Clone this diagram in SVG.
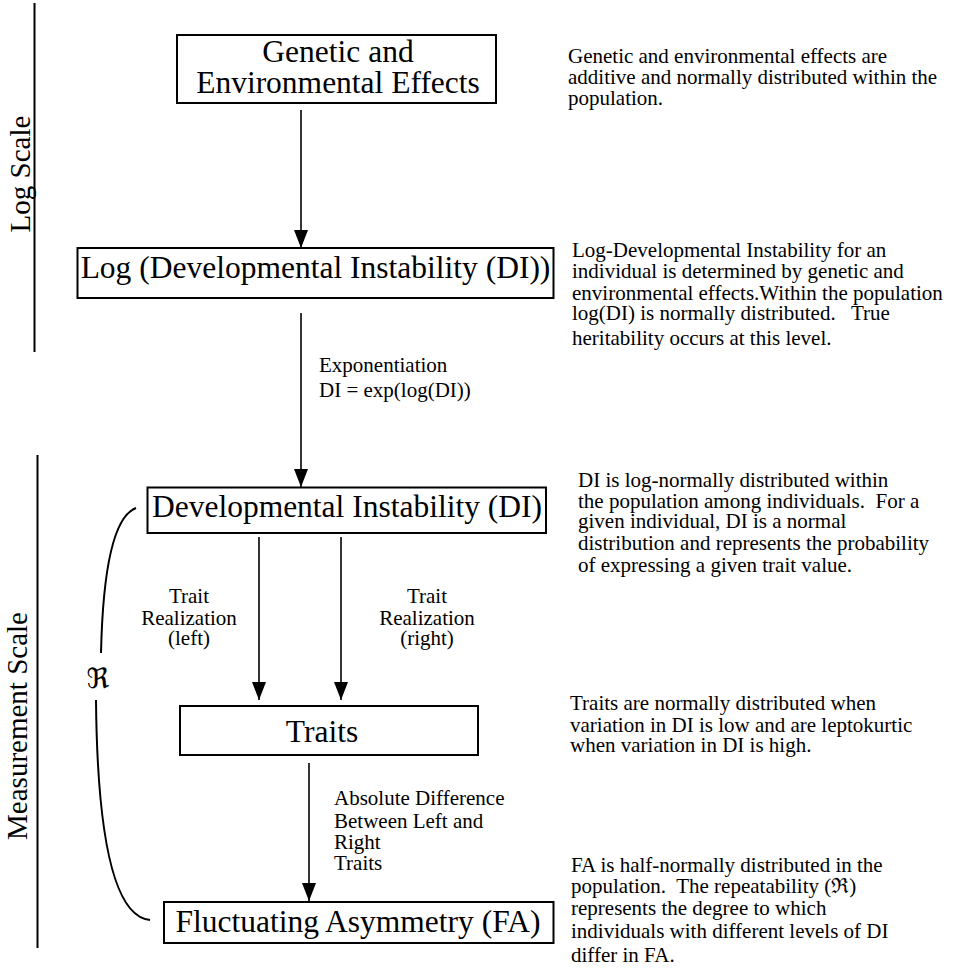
<svg xmlns="http://www.w3.org/2000/svg" width="957" height="978" viewBox="0 0 957 978">
<style>
text{font-family:"Liberation Serif","DejaVu Serif",serif;fill:#000}
.box{fill:#fff;stroke:#000;stroke-width:2}
.nt{font-size:31.5px;text-anchor:middle}
.lb{font-size:21px}
.lc{font-size:21px;text-anchor:middle}
.sd{font-size:21px;white-space:pre}
.scale{font-size:29px;text-anchor:middle}
.ln{fill:none;stroke:#000;stroke-width:1.6}
.ax{fill:none;stroke:#000;stroke-width:2}
</style>
<defs>
<marker id="ah" markerUnits="userSpaceOnUse" markerWidth="18" markerHeight="14" refX="18" refY="7" orient="auto">
<path d="M0,0 L18,7 L0,14 z" fill="#000"/>
</marker>
</defs>
<rect width="957" height="978" fill="#fff"/>
<g id="scales">
<line class="ax" x1="34.5" y1="3" x2="34.5" y2="352"/>
<text class="scale" font-size="28" transform="translate(30,174) rotate(-90)">Log Scale</text>
<line class="ax" x1="37.5" y1="455" x2="37.5" y2="948"/>
<text class="scale" transform="translate(27,726) rotate(-90)">Measurement Scale</text>
</g>
<g id="connectors">
<path class="ln" d="M301,110 V248" marker-end="url(#ah)"/>
<path class="ln" d="M301,313 V487" marker-end="url(#ah)"/>
<path class="ln" d="M259,537 V700" marker-end="url(#ah)"/>
<path class="ln" d="M341,537 V700" marker-end="url(#ah)"/>
<path class="ln" d="M309,763 V901" marker-end="url(#ah)"/>
<path class="ax" d="M136,508 Q104,520 101,653"/>
<path class="ax" d="M96,700 Q98,915 150,920"/>
<text x="98" y="688" font-size="28" text-anchor="middle" style="font-family:'DejaVu Serif','DejaVu Sans',serif">ℜ</text>
<text class="lb" x="319" y="372">Exponentiation</text>
<text class="lb" x="319" y="397">DI = exp(log(DI))</text>
<text class="lc" x="189" y="603">Trait</text>
<text class="lc" x="189" y="625">Realization</text>
<text class="lc" x="189" y="645">(left)</text>
<text class="lc" x="427" y="603">Trait</text>
<text class="lc" x="427" y="625">Realization</text>
<text class="lc" x="427" y="645">(right)</text>
<text class="lb" x="334" y="805">Absolute Difference</text>
<text class="lb" x="334" y="828">Between Left and</text>
<text class="lb" x="334" y="849">Right</text>
<text class="lb" x="334" y="870">Traits</text>
</g>
<g id="genetic">
<rect class="box" x="177" y="35" width="319" height="68"/>
<text class="nt" x="338" y="62">Genetic and</text>
<text class="nt" x="338" y="93">Environmental Effects</text>
</g>
<g id="logdi">
<rect class="box" x="77.5" y="248" width="476" height="50"/>
<text class="nt" x="315.5" y="278">Log (Developmental Instability (DI))</text>
</g>
<g id="di">
<rect class="box" x="147.5" y="487.5" width="398.5" height="45.5"/>
<text class="nt" x="347" y="517">Developmental Instability (DI)</text>
</g>
<g id="traits">
<rect class="box" x="180" y="706" width="298" height="49"/>
<text class="nt" x="322" y="742">Traits</text>
</g>
<g id="fa">
<rect class="box" x="164" y="902" width="389.5" height="41"/>
<text class="nt" x="358" y="932">Fluctuating Asymmetry (FA)</text>
</g>
<g id="notes">
<text class="sd" x="568" y="63">Genetic and environmental effects are</text>
<text class="sd" x="568" y="84">additive and normally distributed within the</text>
<text class="sd" x="568" y="105">population.</text>
<text class="sd" x="572" y="257">Log-Developmental Instability for an</text>
<text class="sd" x="572" y="278">individual is determined by genetic and</text>
<text class="sd" x="572" y="300">environmental effects.Within the population</text>
<text class="sd" x="572" y="320">log(DI) is normally distributed.   True</text>
<text class="sd" x="572" y="345">heritability occurs at this level.</text>
<text class="sd" x="578" y="487">DI is log-normally distributed within</text>
<text class="sd" x="578" y="508">the population among individuals.  For a</text>
<text class="sd" x="578" y="528">given individual, DI is a normal</text>
<text class="sd" x="578" y="550">distribution and represents the probability</text>
<text class="sd" x="578" y="572">of expressing a given trait value.</text>
<text class="sd" x="570" y="710">Traits are normally distributed when</text>
<text class="sd" x="570" y="732">variation in DI is low and are leptokurtic</text>
<text class="sd" x="570" y="752">when variation in DI is high.</text>
<text class="sd" x="571" y="872">FA is half-normally distributed in the</text>
<text class="sd" x="571" y="893">population.  The repeatability (ℜ)</text>
<text class="sd" x="571" y="915">represents the degree to which</text>
<text class="sd" x="571" y="938">individuals with different levels of DI</text>
<text class="sd" x="571" y="962">differ in FA.</text>
</g>
</svg>
